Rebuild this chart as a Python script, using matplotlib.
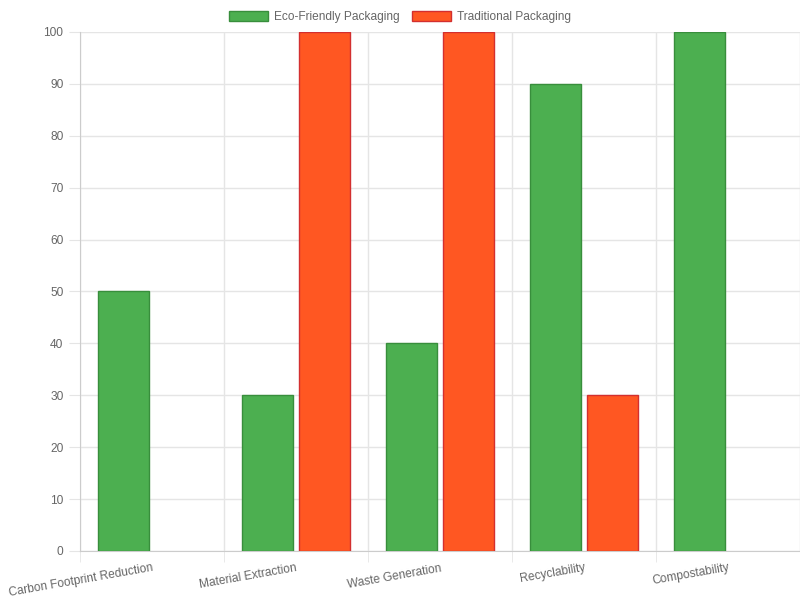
import matplotlib.pyplot as plt
import numpy as np

plt.rcParams['font.family'] = ['Liberation Sans', 'DejaVu Sans']

categories = ['Carbon Footprint Reduction', 'Material Extraction', 'Waste Generation',
              'Recyclability', 'Compostability']
eco_values = [50, 30, 40, 90, 100]
traditional_values = [0, 100, 100, 30, 0]

fig = plt.figure(figsize=(8, 6), dpi=100)
ax = fig.add_axes([0.1, 0.0817, 0.9, 0.865])

x = np.arange(len(categories))
w = 0.355
# no outline on empty bars
eco_lw = [1 if v > 0 else 0 for v in eco_values]
trad_lw = [1 if v > 0 else 0 for v in traditional_values]
ax.bar(x - 0.2, eco_values, w, color='#4CAF50', edgecolor='#388E3C', linewidth=eco_lw,
       label='Eco-Friendly Packaging', zorder=3)
ax.bar(x + 0.2, traditional_values, w, color='#FF5722', edgecolor='#D32F2F', linewidth=trad_lw,
       label='Traditional Packaging', zorder=3)

ax.set_xlim(-0.5, len(categories) - 0.5)
ax.set_ylim(0, 100)
ax.set_yticks(range(0, 101, 10))
ax.set_xticks(x)
ax.set_xticklabels(categories, rotation=10, ha='right', rotation_mode='anchor')
ax.set_xticks(np.arange(-0.5, len(categories)), minor=True)

ax.grid(True, axis='y', color='#e5e5e5', linewidth=1, zorder=0)
ax.grid(True, axis='x', which='minor', color='#e5e5e5', linewidth=1, zorder=0)
ax.tick_params(axis='y', length=8, color='#e5e5e5', labelcolor='#666666', labelsize=8.6, pad=4)
ax.tick_params(axis='x', which='major', length=0, labelcolor='#666666', labelsize=8.6, pad=8)
ax.tick_params(axis='x', which='minor', length=8, color='#e5e5e5')

for side in ['top', 'right']:
    ax.spines[side].set_visible(False)
for side in ['left', 'bottom']:
    ax.spines[side].set_color('#cccccc')

leg = fig.legend(loc='upper center', ncol=2, frameon=False, bbox_to_anchor=(0.5, 1.0),
                 fontsize=8.6, labelcolor='#666666', handlelength=3.3, handleheight=1.0,
                 columnspacing=1.0, handletextpad=0.5)
for h in leg.legend_handles:
    h.set_linewidth(1)

fig.savefig('out.png', dpi=100)
